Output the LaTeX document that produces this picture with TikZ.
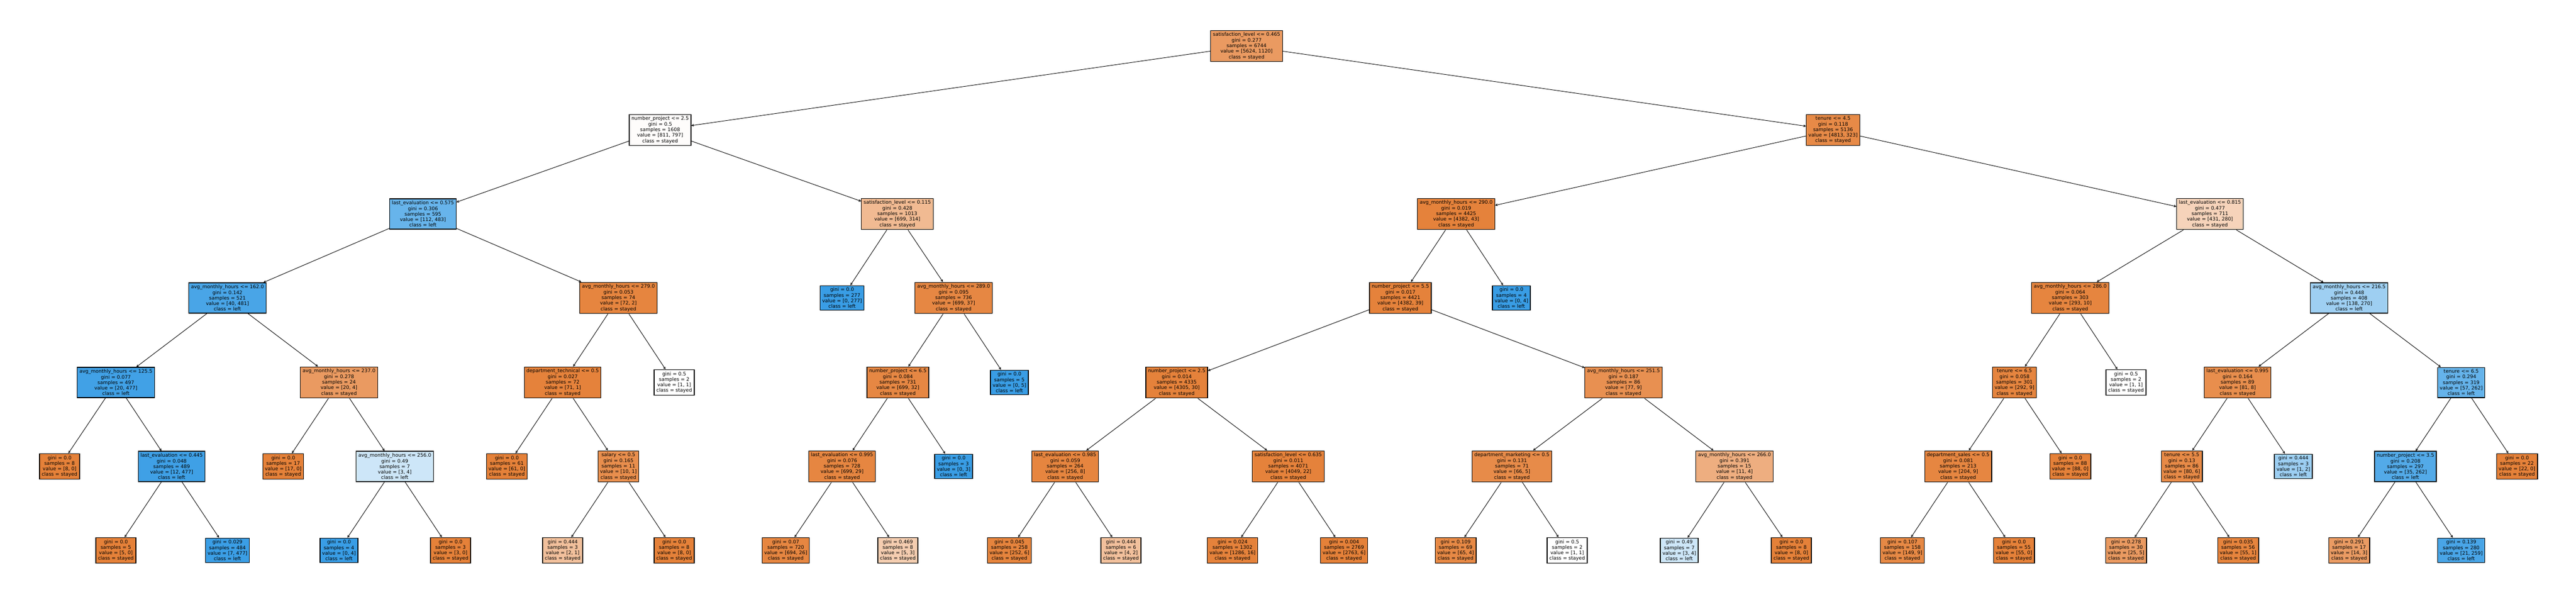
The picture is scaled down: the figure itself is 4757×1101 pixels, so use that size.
\documentclass[tikz,border=0pt]{standalone}
\usepackage{fontspec}
\setmainfont{DejaVu Sans}
\usetikzlibrary{arrows.meta}
\definecolor{cs}{RGB}{229,129,57}
\definecolor{cl}{RGB}{57,157,229}
\begin{document}
\begin{tikzpicture}[x=1pt,y=-1pt,
  tn/.style={draw=black, line width=1.2pt, rectangle, align=center,
    font=\fontsize{9}{10.3}\selectfont, inner xsep=4pt, inner ysep=3.9pt},
  ed/.style={draw=black, line width=0.9pt, -{Straight Barb[length=3.5pt,width=3.6pt]}}]
\useasboundingbox (0,0) rectangle (4757,1101);
\fill[white] (0,0) rectangle (4757,1101);
% level 0
\node[tn,fill=cs!80] (n0) at (2302,85) {satisfaction\_level <= 0.465\\gini = 0.277\\samples = 6744\\value = [5624, 1120]\\class = stayed};
% level 1
\node[tn,fill=cs!2] (n1) at (1219,240) {number\_project <= 2.5\\gini = 0.5\\samples = 1608\\value = [811, 797]\\class = stayed};
\node[tn,fill=cs!93] (n2) at (3385,240) {tenure <= 4.5\\gini = 0.118\\samples = 5136\\value = [4813, 323]\\class = stayed};
% level 2
\node[tn,fill=cl!77] (n3) at (781,395) {last\_evaluation <= 0.575\\gini = 0.306\\samples = 595\\value = [112, 483]\\class = left};
\node[tn,fill=cs!55] (n4) at (1657,395) {satisfaction\_level <= 0.115\\gini = 0.428\\samples = 1013\\value = [699, 314]\\class = stayed};
\node[tn,fill=cs!99] (n5) at (2689,395) {avg\_monthly\_hours <= 290.0\\gini = 0.019\\samples = 4425\\value = [4382, 43]\\class = stayed};
\node[tn,fill=cs!35] (n6) at (4081,395) {last\_evaluation <= 0.815\\gini = 0.477\\samples = 711\\value = [431, 280]\\class = stayed};
% level 3
\node[tn,fill=cl!92] (n7) at (420,550) {avg\_monthly\_hours <= 162.0\\gini = 0.142\\samples = 521\\value = [40, 481]\\class = left};
\node[tn,fill=cs!97] (n8) at (1142,550) {avg\_monthly\_hours <= 279.0\\gini = 0.053\\samples = 74\\value = [72, 2]\\class = stayed};
\node[tn,fill=cl] (n9) at (1555,550) {gini = 0.0\\samples = 277\\value = [0, 277]\\class = left};
\node[tn,fill=cs!95] (n10) at (1761,550) {avg\_monthly\_hours <= 289.0\\gini = 0.095\\samples = 736\\value = [699, 37]\\class = stayed};
\node[tn,fill=cs!99] (n11) at (2586,550) {number\_project <= 5.5\\gini = 0.017\\samples = 4421\\value = [4382, 39]\\class = stayed};
\node[tn,fill=cl] (n12) at (2791,550) {gini = 0.0\\samples = 4\\value = [0, 4]\\class = left};
\node[tn,fill=cs!97] (n13) at (3823,550) {avg\_monthly\_hours <= 286.0\\gini = 0.064\\samples = 303\\value = [293, 10]\\class = stayed};
\node[tn,fill=cl!49] (n14) at (4338,550) {avg\_monthly\_hours <= 216.5\\gini = 0.448\\samples = 408\\value = [138, 270]\\class = left};
% level 4
\node[tn,fill=cl!96] (n15) at (214,706) {avg\_monthly\_hours <= 125.5\\gini = 0.077\\samples = 497\\value = [20, 477]\\class = left};
\node[tn,fill=cs!80] (n16) at (626,706) {avg\_monthly\_hours <= 237.0\\gini = 0.278\\samples = 24\\value = [20, 4]\\class = stayed};
\node[tn,fill=cs!99] (n17) at (1039,706) {department\_technical <= 0.5\\gini = 0.027\\samples = 72\\value = [71, 1]\\class = stayed};
\node[tn,fill=white] (n18) at (1245,706) {gini = 0.5\\samples = 2\\value = [1, 1]\\class = stayed};
\node[tn,fill=cs!95] (n19) at (1658,706) {number\_project <= 6.5\\gini = 0.084\\samples = 731\\value = [699, 32]\\class = stayed};
\node[tn,fill=cl] (n20) at (1864,706) {gini = 0.0\\samples = 5\\value = [0, 5]\\class = left};
\node[tn,fill=cs!99] (n21) at (2173,706) {number\_project <= 2.5\\gini = 0.014\\samples = 4335\\value = [4305, 30]\\class = stayed};
\node[tn,fill=cs!88] (n22) at (2998,706) {avg\_monthly\_hours <= 251.5\\gini = 0.187\\samples = 86\\value = [77, 9]\\class = stayed};
\node[tn,fill=cs!97] (n23) at (3720,706) {tenure <= 6.5\\gini = 0.058\\samples = 301\\value = [292, 9]\\class = stayed};
\node[tn,fill=white] (n24) at (3926,706) {gini = 0.5\\samples = 2\\value = [1, 1]\\class = stayed};
\node[tn,fill=cs!90] (n25) at (4132,706) {last\_evaluation <= 0.995\\gini = 0.164\\samples = 89\\value = [81, 8]\\class = stayed};
\node[tn,fill=cl!78] (n26) at (4545,706) {tenure <= 6.5\\gini = 0.294\\samples = 319\\value = [57, 262]\\class = left};
% level 5
\node[tn,fill=cs] (n27) at (110,861) {gini = 0.0\\samples = 8\\value = [8, 0]\\class = stayed};
\node[tn,fill=cl!97] (n28) at (317,861) {last\_evaluation <= 0.445\\gini = 0.048\\samples = 489\\value = [12, 477]\\class = left};
\node[tn,fill=cs] (n29) at (523,861) {gini = 0.0\\samples = 17\\value = [17, 0]\\class = stayed};
\node[tn,fill=cl!25] (n30) at (729,861) {avg\_monthly\_hours <= 256.0\\gini = 0.49\\samples = 7\\value = [3, 4]\\class = left};
\node[tn,fill=cs] (n31) at (936,861) {gini = 0.0\\samples = 61\\value = [61, 0]\\class = stayed};
\node[tn,fill=cs!90] (n32) at (1142,861) {salary <= 0.5\\gini = 0.165\\samples = 11\\value = [10, 1]\\class = stayed};
\node[tn,fill=cs!96] (n33) at (1555,861) {last\_evaluation <= 0.995\\gini = 0.076\\samples = 728\\value = [699, 29]\\class = stayed};
\node[tn,fill=cl] (n34) at (1761,861) {gini = 0.0\\samples = 3\\value = [0, 3]\\class = left};
\node[tn,fill=cs!97] (n35) at (1967,861) {last\_evaluation <= 0.985\\gini = 0.059\\samples = 264\\value = [256, 8]\\class = stayed};
\node[tn,fill=cs!99] (n36) at (2379,861) {satisfaction\_level <= 0.635\\gini = 0.011\\samples = 4071\\value = [4049, 22]\\class = stayed};
\node[tn,fill=cs!92] (n37) at (2792,861) {department\_marketing <= 0.5\\gini = 0.131\\samples = 71\\value = [66, 5]\\class = stayed};
\node[tn,fill=cs!64] (n38) at (3203,861) {avg\_monthly\_hours <= 266.0\\gini = 0.391\\samples = 15\\value = [11, 4]\\class = stayed};
\node[tn,fill=cs!96] (n39) at (3616,861) {department\_sales <= 0.5\\gini = 0.081\\samples = 213\\value = [204, 9]\\class = stayed};
\node[tn,fill=cs] (n40) at (3823,861) {gini = 0.0\\samples = 88\\value = [88, 0]\\class = stayed};
\node[tn,fill=cs!93] (n41) at (4029,861) {tenure <= 5.5\\gini = 0.13\\samples = 86\\value = [80, 6]\\class = stayed};
\node[tn,fill=cl!50] (n42) at (4235,861) {gini = 0.444\\samples = 3\\value = [1, 2]\\class = left};
\node[tn,fill=cl!87] (n43) at (4442,861) {number\_project <= 3.5\\gini = 0.208\\samples = 297\\value = [35, 262]\\class = left};
\node[tn,fill=cs] (n44) at (4648,861) {gini = 0.0\\samples = 22\\value = [22, 0]\\class = stayed};
% level 6
\node[tn,fill=cs] (n45) at (214,1016) {gini = 0.0\\samples = 5\\value = [5, 0]\\class = stayed};
\node[tn,fill=cl!99] (n46) at (420,1016) {gini = 0.029\\samples = 484\\value = [7, 477]\\class = left};
\node[tn,fill=cl] (n47) at (626,1016) {gini = 0.0\\samples = 4\\value = [0, 4]\\class = left};
\node[tn,fill=cs] (n48) at (832,1016) {gini = 0.0\\samples = 3\\value = [3, 0]\\class = stayed};
\node[tn,fill=cs!50] (n49) at (1039,1016) {gini = 0.444\\samples = 3\\value = [2, 1]\\class = stayed};
\node[tn,fill=cs] (n50) at (1245,1016) {gini = 0.0\\samples = 8\\value = [8, 0]\\class = stayed};
\node[tn,fill=cs!96] (n51) at (1451,1016) {gini = 0.07\\samples = 720\\value = [694, 26]\\class = stayed};
\node[tn,fill=cs!40] (n52) at (1658,1016) {gini = 0.469\\samples = 8\\value = [5, 3]\\class = stayed};
\node[tn,fill=cs!98] (n53) at (1864,1016) {gini = 0.045\\samples = 258\\value = [252, 6]\\class = stayed};
\node[tn,fill=cs!50] (n54) at (2070,1016) {gini = 0.444\\samples = 6\\value = [4, 2]\\class = stayed};
\node[tn,fill=cs!99] (n55) at (2276,1016) {gini = 0.024\\samples = 1302\\value = [1286, 16]\\class = stayed};
\node[tn,fill=cs] (n56) at (2482,1016) {gini = 0.004\\samples = 2769\\value = [2763, 6]\\class = stayed};
\node[tn,fill=cs!94] (n57) at (2688,1016) {gini = 0.109\\samples = 69\\value = [65, 4]\\class = stayed};
\node[tn,fill=white] (n58) at (2894,1016) {gini = 0.5\\samples = 2\\value = [1, 1]\\class = stayed};
\node[tn,fill=cl!25] (n59) at (3101,1016) {gini = 0.49\\samples = 7\\value = [3, 4]\\class = left};
\node[tn,fill=cs] (n60) at (3308,1016) {gini = 0.0\\samples = 8\\value = [8, 0]\\class = stayed};
\node[tn,fill=cs!94] (n61) at (3513,1016) {gini = 0.107\\samples = 158\\value = [149, 9]\\class = stayed};
\node[tn,fill=cs] (n62) at (3719,1016) {gini = 0.0\\samples = 55\\value = [55, 0]\\class = stayed};
\node[tn,fill=cs!80] (n63) at (3926,1016) {gini = 0.278\\samples = 30\\value = [25, 5]\\class = stayed};
\node[tn,fill=cs!98] (n64) at (4133,1016) {gini = 0.035\\samples = 56\\value = [55, 1]\\class = stayed};
\node[tn,fill=cs!79] (n65) at (4338,1016) {gini = 0.291\\samples = 17\\value = [14, 3]\\class = stayed};
\node[tn,fill=cl!92] (n66) at (4545,1016) {gini = 0.139\\samples = 280\\value = [21, 259]\\class = left};
% edges
\foreach \p/\c in {n0/n1,n0/n2,n1/n3,n1/n4,n2/n5,n2/n6,
  n3/n7,n3/n8,n4/n9,n4/n10,n5/n11,n5/n12,n6/n13,n6/n14,
  n7/n15,n7/n16,n8/n17,n8/n18,n10/n19,n10/n20,n11/n21,n11/n22,n13/n23,n13/n24,n14/n25,n14/n26,
  n15/n27,n15/n28,n16/n29,n16/n30,n17/n31,n17/n32,n19/n33,n19/n34,n21/n35,n21/n36,n22/n37,n22/n38,
  n23/n39,n23/n40,n25/n41,n25/n42,n26/n43,n26/n44,
  n28/n45,n28/n46,n30/n47,n30/n48,n32/n49,n32/n50,n33/n51,n33/n52,n35/n53,n35/n54,n36/n55,n36/n56,
  n37/n57,n37/n58,n38/n59,n38/n60,n39/n61,n39/n62,n41/n63,n41/n64,n43/n65,n43/n66}
  \draw[ed] (\p) -- (\c);
\end{tikzpicture}
\end{document}
